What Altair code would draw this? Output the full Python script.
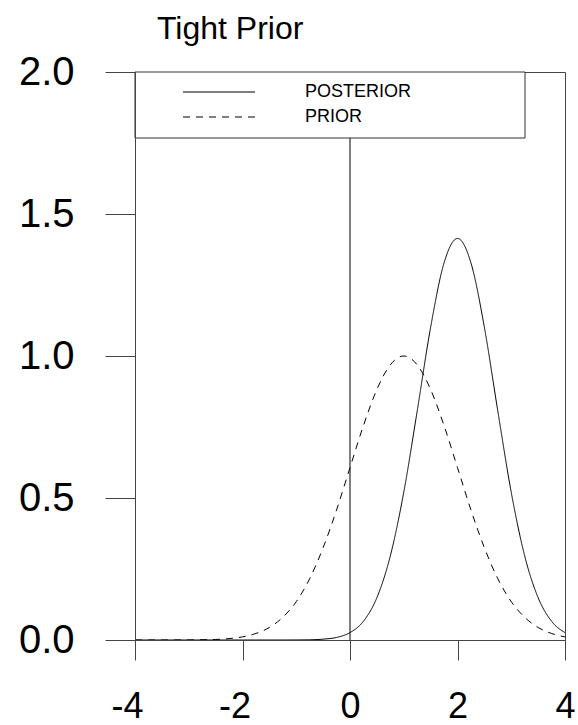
import altair as alt
import pandas as pd

# ---- data ----
x_vals = [-4, -3.75, -3.5, -3.25, -3, -2.75, -2.5, -2.25, -2, -1.75, -1.5, -1.25,
          -1, -0.75, -0.5, -0.25, 0, 0.25, 0.5, 0.75, 1, 1.25, 1.5, 1.75,
          2, 2.25, 2.5, 2.75, 3, 3.25, 3.5, 3.75, 4]
posterior = [0.0, 0.0, 0.0, 0.0, 0.0, 0.0, 0.0, 0.0, 0.0, 0.0, 0.0, 0.0,
             0.0002, 0.0007, 0.003, 0.009, 0.026, 0.066, 0.149, 0.296, 0.520, 0.806, 1.101, 1.328,
             1.414, 1.328, 1.101, 0.806, 0.520, 0.296, 0.149, 0.066, 0.026]
prior = [0.0, 0.0, 0.0, 0.0001, 0.0003, 0.0009, 0.002, 0.005, 0.011, 0.023, 0.044, 0.080,
         0.135, 0.216, 0.325, 0.458, 0.607, 0.755, 0.882, 0.969, 1.000, 0.969, 0.882, 0.755,
         0.607, 0.458, 0.325, 0.216, 0.135, 0.080, 0.044, 0.023, 0.011]
series_names = ["POSTERIOR", "PRIOR"]
title_text = "Tight Prior"
x_ticks = [-4, -2, 0, 2, 4]
y_ticks = [0, 0.5, 1.0, 1.5, 2.0]
zero_line = [0]

FONT = "Liberation Sans"
DASH = [7, 6]
dash_map = {"POSTERIOR": [1, 0], "PRIOR": DASH}
AXIS_COLOR = "#444"

rows = []
for name, vals in zip(series_names, [posterior, prior]):
    for xv, yv in zip(x_vals, vals):
        rows.append({"x": xv, "y": yv, "series": name})
df = pd.DataFrame(rows)

x_scale = alt.Scale(domain=[-4, 4], nice=False, zero=False)
y_scale = alt.Scale(domain=[0, 2], nice=False)

x_axis = alt.Axis(values=x_ticks, title=None, grid=False,
                  labelExpr="datum.value < 0 ? '-' + abs(datum.value) : '' + datum.value",
                  tickSize=20, tickColor=AXIS_COLOR, domainColor=AXIS_COLOR,
                  labelFontSize=36, labelFont=FONT, labelColor="black",
                  labelPadding=29, labelFlush=False, labelOverlap=False,
                  labelOffset={"condition": {"test": "datum.value < 0", "value": -8}, "value": 0},
                  zindex=1)
y_axis = alt.Axis(values=y_ticks, format=".1f", title=None, grid=False,
                  tickSize=30, tickColor=AXIS_COLOR, domainColor=AXIS_COLOR,
                  labelFontSize=40, labelFont=FONT, labelColor="black",
                  labelPadding=31, labelFlush=False, labelOverlap=False, zindex=1)

curves = alt.Chart(df).mark_line(color="black", strokeWidth=1, interpolate="monotone").encode(
    x=alt.X("x:Q", scale=x_scale, axis=x_axis),
    y=alt.Y("y:Q", scale=y_scale, axis=y_axis),
    strokeDash=alt.StrokeDash("series:N",
                              scale=alt.Scale(domain=series_names,
                                              range=[dash_map[n] for n in series_names]),
                              legend=None),
    detail="series:N",
)

zero_rule = alt.Chart(pd.DataFrame({"x": zero_line})).mark_rule(color="black", strokeWidth=1).encode(
    x=alt.X("x:Q", scale=x_scale)
)

blank = alt.Data(values=[{}])
legend_box = alt.Chart(blank).mark_rect(fill="white", stroke="#333", strokeWidth=1).encode(
    x=alt.value(0), x2=alt.value(390), y=alt.value(0), y2=alt.value(66)
)

legend_layers = []
for i, name in enumerate(series_names):
    line_y = 20 + 25 * i
    legend_layers.append(
        alt.Chart(blank).mark_rule(color="black", strokeWidth=1,
                                   strokeDash=dash_map[name]).encode(
            x=alt.value(48), x2=alt.value(120), y=alt.value(line_y)
        )
    )
    legend_layers.append(
        alt.Chart(blank).mark_text(text=name, align="left", baseline="alphabetic",
                                   font=FONT, fontSize=18, color="black").encode(
            x=alt.value(170), y=alt.value(line_y + 5)
        )
    )

title_mark = alt.Chart(blank).mark_text(text=title_text, align="left", baseline="alphabetic",
                                        font=FONT, fontSize=32, color="black").encode(
    x=alt.value(22), y=alt.value(-33)
)

chart = alt.layer(curves, zero_rule, legend_box, *legend_layers, title_mark).properties(
    width=430, height=568,
    background="white",
    autosize=alt.AutoSizeParams(type="none"),
    padding={"left": 135, "top": 72, "right": 13, "bottom": 85},
).configure_view(stroke=AXIS_COLOR, strokeWidth=1)

chart.save("out.html", embed_options={"renderer": "svg", "actions": False})
